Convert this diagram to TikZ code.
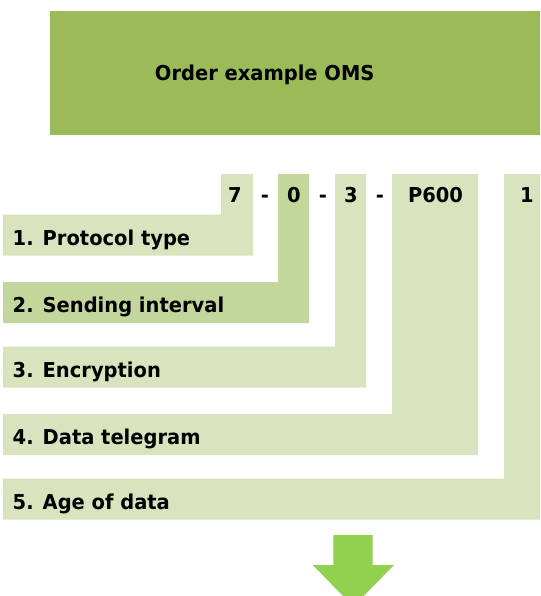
\documentclass[tikz,border=0pt]{standalone}
\usepackage{fontspec}
\setmainfont[FakeStretch=0.95]{DejaVu Sans}
\definecolor{titlegreen}{HTML}{9BBB59}
\definecolor{lightgreen}{HTML}{D7E4BD}
\definecolor{midgreen}{HTML}{C3D69B}
\definecolor{arrowgreen}{HTML}{92D050}
\begin{document}
\begin{tikzpicture}[x=1pt, y=-1pt, font=\fontsize{20.5}{24}\selectfont\bfseries, line join=round]
	\useasboundingbox (0,0) rectangle (540,596);
	\fill[titlegreen] (50,11) rectangle (540,135);
	\node[anchor=base, inner sep=0pt] (title) at (264.7,80.7) {Order example OMS};
	% Code columns with their label rows
	\foreach \l/\r/\t/\c in {221/253/214.5/lightgreen, 278/309/282/midgreen, 335/366/346.5/lightgreen, 392/478/414/lightgreen, 504/540/478.5/lightgreen}
	\fill[\c] (\l,174) -| (\r,\t+41) -| (3,\t) -| cycle;
	\foreach \x/\s/\n in {235/7/c1, 294/0/c2, 351/3/c3, 435.5/P600/c4, 527/1/c5, 265/-/d1, 323/-/d2, 380/-/d3}
	\node[anchor=base, inner sep=0pt] (\n) at (\x,202.3) {\s};
	\foreach \t/\s/\n in {214.5/1. Protocol type/l1, 282/2. Sending interval/l2, 346.5/3. Encryption/l3, 414/4. Data telegram/l4, 478.5/5. Age of data/l5}
	\node[anchor=base west, inner sep=0pt] (\n) at (12.5,\t+30.5) {\s};
	% Pfeil nach unten
	\fill[arrowgreen] (333.3,535) -- (372.7,535) -- (372.7,565) -- (394,565) -- (363.6,596) -- (343,596) -- (312.7,565) -- (333.3,565) -- cycle;
\end{tikzpicture}
\end{document}
